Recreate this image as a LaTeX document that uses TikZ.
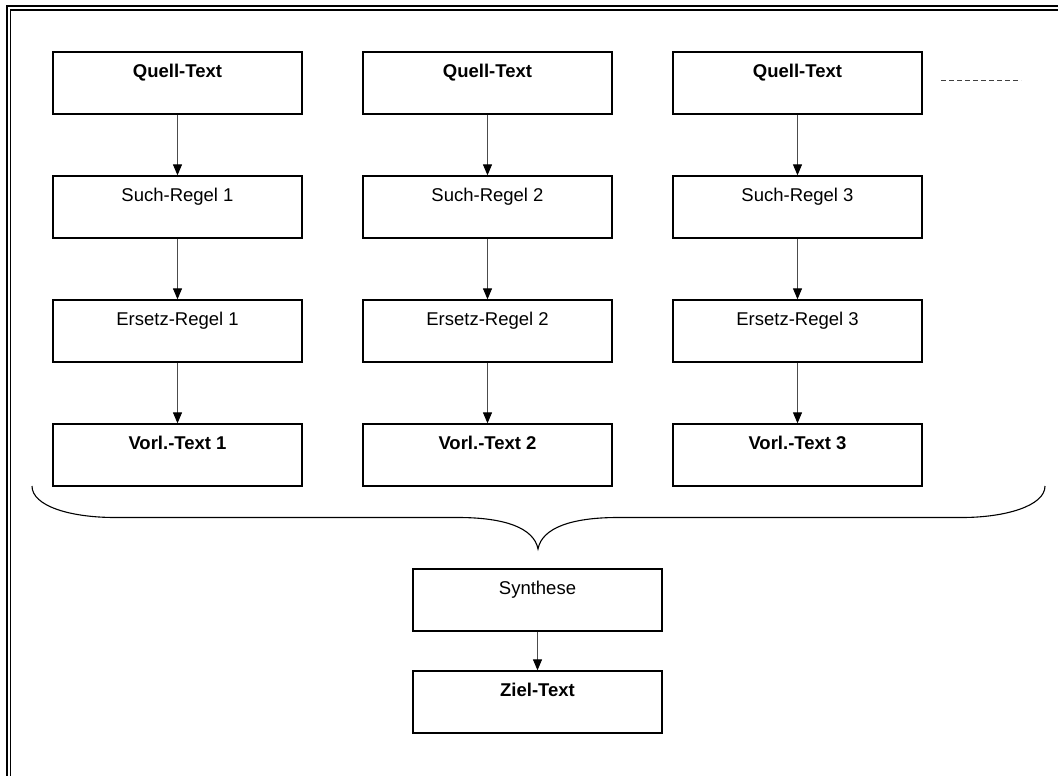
\documentclass[tikz,border=0pt]{standalone}
\usepackage{fontspec}
\setmainfont{Liberation Sans}
\usetikzlibrary{arrows.meta}
\begin{document}
\begin{tikzpicture}[x=1pt,y=-1pt,
  box/.style={draw=black,line width=1.3pt,rectangle,inner sep=0pt,
    minimum width=249pt,text height=25.5pt,text depth=36.5pt,
    font=\fontsize{18.5}{22}\selectfont},
  boldbox/.style={box,font=\fontsize{18.5}{22}\selectfont\bfseries},
  flow/.style={draw=black!70,line width=1pt,
    -{Triangle[width=9pt,length=11pt,fill=black,color=black]}},
  frameline/.style={draw=black}]
\useasboundingbox (0,0) rectangle (1058,776);
% double frame on top and left
\draw[frameline,line width=2pt] (1058,6.5) -- (7,6.5) -- (7,776);
\draw[frameline,line width=1.4pt] (1058,10) -- (10.3,10) -- (10.3,776);

% three parallel rule chains
\foreach \i/\x in {1/177.5,2/487.5,3/797.5}{
  \node[boldbox] (q\i) at (\x,83) {Quell-Text};
  \node[box]     (s\i) at (\x,207) {Such-Regel \i};
  \node[box]     (e\i) at (\x,331) {Ersetz-Regel \i};
  \node[boldbox] (v\i) at (\x,455) {Vorl.-Text \i};
  \draw[flow] (q\i) -- (s\i);
  \draw[flow] (s\i) -- (e\i);
  \draw[flow] (e\i) -- (v\i);
}

% continuation mark
\coordinate (d1) at (941,80);
\coordinate (d2) at (1021,80);
\draw[black!75,line width=0.9pt,dash pattern=on 5pt off 3pt] (d1) -- (d2);

% brace collecting the intermediate texts
\coordinate (bl) at (32,486);
\coordinate (br) at (1045,486);
\coordinate (tip) at (538,549);
\draw[line width=1.1pt] (bl) .. controls (32,506) and (70,517.5) .. (115,517.5)
  -- (458,517.5) .. controls (505,517.5) and (534,528) .. (tip)
  .. controls (542,528) and (571,517.5) .. (618,517.5)
  -- (962,517.5) .. controls (1005,517.5) and (1045,506) .. (br);

% synthesis
\node[box]     (syn)  at (537.5,600) {Synthese};
\node[boldbox] (ziel) at (537.5,702) {Ziel-Text};
\draw[flow] (syn) -- (ziel);
\end{tikzpicture}
\end{document}
